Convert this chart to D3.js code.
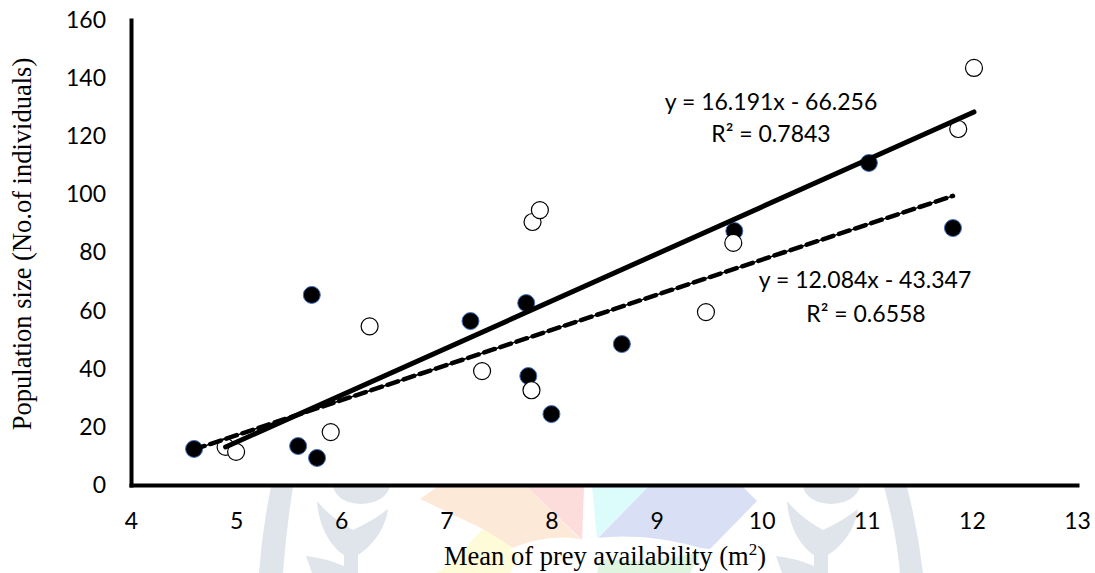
<!DOCTYPE html>
<html>
<head>
<meta charset="utf-8">
<script src="https://cdn.jsdelivr.net/npm/d3@7"></script>
<style>
	body{margin:0;background:#fff;}
	svg{display:block;}
	.tick text{font-family:Lato,'Open Sans',sans-serif;font-size:23px;fill:#000;}
	.eq{font-family:Lato,'Open Sans',sans-serif;font-size:23px;fill:#000;}
	.title{font-family:'Liberation Serif','Times New Roman',serif;font-size:26.5px;fill:#000;}
</style>
</head>
<body>
<svg id="chart"></svg>
<script>
// values
const filled_x = [4.60, 5.59, 5.77, 5.72, 7.23, 7.76, 7.78, 8.00, 8.67, 9.74, 11.02, 11.82]
const filled_y = [12.4, 13.4, 9.3, 65.4, 56.4, 62.6, 37.5, 24.4, 48.5, 87.4, 110.8, 88.4]

const open_x = [4.90, 5.00, 5.90, 6.27, 7.34, 7.81, 7.82, 7.89, 9.47, 9.73, 11.87, 12.02]
const open_y = [13.1, 11.4, 18.2, 54.6, 39.2, 32.6, 90.5, 94.6, 59.5, 83.3, 122.5, 143.5]

// trendlines: [slope, intercept]
const open_fit = [16.191, -66.256]
const filled_fit = [12.084, -43.347]

const x_ticks = [4,5,6,7,8,9,10,11,12,13]
const y_ticks = [0,20,40,60,80,100,120,140,160]

const width = 1095
const height = 573

const svg = d3.select('#chart')
	.attr('width',width)
	.attr('height',height)

const xScale = d3.scaleLinear().domain([4,13]).range([131,1077])
const yScale = d3.scaleLinear().domain([0,160]).range([485,20])

/*faint watermark behind the axis labels*/
const wm = svg.append('g').attr('class','watermark')
const gray = '#dfe5ea'
//bands
wm.append('path').attr('fill',gray)
	.attr('d','M271,487 L293,487 Q286,530 283,573 L259,573 Q262,530 271,487 Z')
wm.append('path').attr('fill',gray)
	.attr('d','M884,487 L907,487 Q918,530 923,573 L900,573 Q896,530 884,487 Z')
//tulips
const tulip = (dx)=>{
	const g = wm.append('g').attr('transform',`translate(${dx},0)`)
	g.append('path').attr('fill',gray)
		.attr('d','M333,487 Q338,503 361,504 Q384,503 390,487 Z')
	g.append('path').attr('fill',gray)
		.attr('d','M317,501 C319,530 333,548 344,555 L344,573 L358,573 L358,555 C372,546 385,530 388,509 C378,517 366,524 353,530 C338,522 326,512 317,501 Z')
	g.append('path').attr('fill',gray)
		.attr('d','M306,556 Q325,558 344,566 L344,573 L312,573 Z')
}
tulip(0)
tulip(470)
//colour quadrants
wm.append('polygon').attr('fill','#fde9d7').attr('points','437,487 527,487 581,540 512,549 483,529 420,499')
wm.append('polygon').attr('fill','#fddcdc').attr('points','527,487 584,487 582,540')
wm.append('polygon').attr('fill','#dcfbfb').attr('points','592,487 648,487 597,538')
wm.append('polygon').attr('fill','#d9e0f5').attr('points','648,487 743,487 757,501 710,549 597,539')
wm.append('polygon').attr('fill','#fefbd8').attr('points','483,529 520,552 510,573 436,573 447,566')
wm.append('polygon').attr('fill','#dff5e0').attr('points','600,558 702,549 690,573 597,573')
wm.append('path').attr('fill','#fff')
	.attr('d','M508,550 Q548,532 584,540 L586,487 L591,487 L596,538 Q650,532 708,550 Q650,566 592,558 Q550,566 508,550 Z')

/*axes*/
const axisX = svg.append('g')
	.attr('transform',`translate(0,${yScale(0)})`)
	.call(d3.axisBottom(xScale).tickValues(x_ticks).tickSize(0).tickSizeOuter(0).tickPadding(28).tickFormat(d3.format('d')))
const axisY = svg.append('g')
	.attr('transform',`translate(${xScale(4)},0)`)
	.call(d3.axisLeft(yScale).tickValues(y_ticks).tickSize(0).tickSizeOuter(0).tickPadding(25).tickFormat(d3.format('d')))

svg.selectAll('.domain')
	.attr('stroke','#000')
	.attr('stroke-width',4)
	.attr('stroke-linecap','square')

/*points*/
const filled = filled_x.map((x,i)=>({x:x,y:filled_y[i]}))
const open = open_x.map((x,i)=>({x:x,y:open_y[i]}))

svg.append('g')
	.selectAll('circle')
	.data(filled)
	.enter()
	.append('circle')
	.attr('cx',d=>xScale(d.x))
	.attr('cy',d=>yScale(d.y))
	.attr('r',8.5)
	.attr('fill','#000')
	.attr('stroke','#4472c4')
	.attr('stroke-width',1)

svg.append('g')
	.selectAll('circle')
	.data(open)
	.enter()
	.append('circle')
	.attr('cx',d=>xScale(d.x))
	.attr('cy',d=>yScale(d.y))
	.attr('r',8.5)
	.attr('fill','#fff')
	.attr('stroke','#000')
	.attr('stroke-width',1.2)

/*trendlines*/
const fit_line = (fit,xs)=>{
	const ext = d3.extent(xs)
	return ext.map(x=>[xScale(x),yScale(fit[0]*x+fit[1])])
}
const line = d3.line()

svg.append('path')
	.attr('d',line(fit_line(open_fit,open_x)))
	.attr('stroke','#000')
	.attr('stroke-width',5)
	.attr('stroke-linecap','round')
	.attr('fill','none')

const dashed = fit_line(filled_fit,filled_x)
svg.append('path')
	.attr('d',line(dashed))
	.attr('stroke','#000')
	.attr('stroke-width',1.5)
	.attr('fill','none')
svg.append('path')
	.attr('d',line(dashed))
	.attr('stroke','#000')
	.attr('stroke-width',4.5)
	.attr('stroke-dasharray','11,6')
	.attr('stroke-linecap','round')
	.attr('fill','none')

/*equation labels*/
const eq_label = (txt,x,y)=>{
	svg.append('text').attr('class','eq').attr('x',x).attr('y',y).attr('text-anchor','middle').text(txt)
}
eq_label(`y = ${open_fit[0]}x - ${-open_fit[1]}`,771,110)
eq_label('R² = 0.7843',771,142)
eq_label(`y = ${filled_fit[0]}x - ${-filled_fit[1]}`,865,288)
eq_label('R² = 0.6558',866,322)

/*axis titles*/
const xt = svg.append('text')
	.attr('class','title')
	.attr('x',605)
	.attr('y',565)
	.attr('text-anchor','middle')
xt.append('tspan').text('Mean of prey availability (m')
xt.append('tspan').text('2').attr('font-size','17px').attr('dy',-10)
xt.append('tspan').text(')').attr('dy',10)

svg.append('text')
	.attr('class','title')
	.attr('text-anchor','middle')
	.attr('transform','translate(31,244) rotate(-90)')
	.text('Population size (No.of individuals)')
</script>
</body>
</html>
